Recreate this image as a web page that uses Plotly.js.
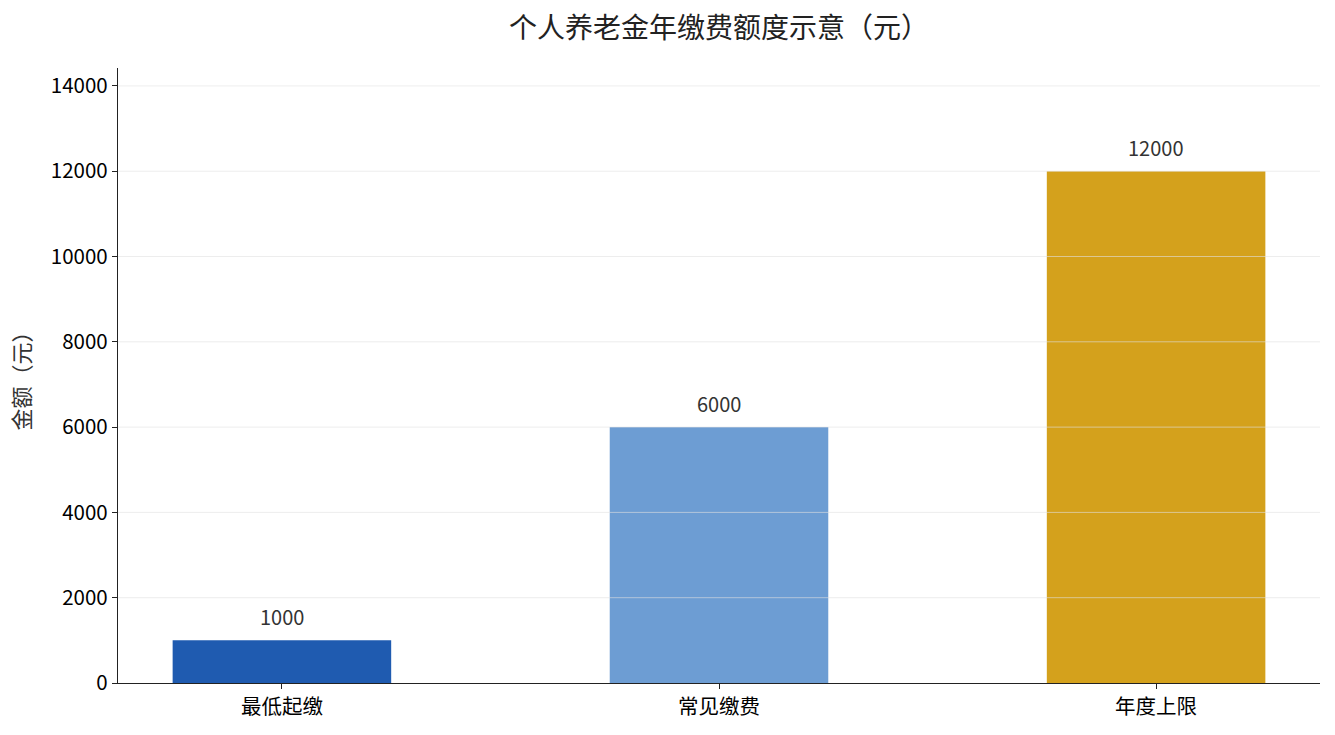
<!DOCTYPE html>
<html>
<head>
<meta charset="utf-8">
<script src="https://cdn.plot.ly/plotly-3.0.1.min.js"></script>
<style>
  html, body { margin: 0; padding: 0; background: #fff; }
  #chart { width: 1335px; height: 735px; }
</style>
</head>
<body>
<div id="chart"></div>
<script>
const categories = ["最低起缴", "常见缴费", "年度上限"];
const amounts = [1000, 6000, 12000];
const barColors = ["#1f5bb0", "#6d9dd3", "#d4a11c"];
const yTicks = [0, 2000, 4000, 6000, 8000, 10000, 12000, 14000];

const font = "'Noto Sans CJK SC', 'Noto Sans', sans-serif";

let data = [
  {
    x: categories,
    y: amounts,
    type: "bar",
    width: 0.5,
    marker: { color: barColors },
    hoverinfo: "x+y"
  }
];

// value labels above each bar
let annotations = categories.map(function (c, i) {
  return {
    x: c,
    y: amounts[i],
    text: String(amounts[i]),
    showarrow: false,
    yanchor: "bottom",
    yshift: 7,
    font: { family: font, size: 20, color: "#333" }
  };
});

// matplotlib draws the grid over the bars, plotly draws it under, so redo it as shapes
let gridShapes = yTicks.slice(1).map(function (t) {
  return {
    type: "line",
    xref: "paper",
    x0: 0,
    x1: 1,
    yref: "y",
    y0: t,
    y1: t,
    layer: "above",
    line: { color: "rgba(225,225,225,0.6)", width: 1 }
  };
});

let layout = {
  width: 1335,
  height: 735,
  margin: { l: 118, r: 15, t: 68, b: 52 },
  paper_bgcolor: "#fff",
  plot_bgcolor: "#fff",
  font: { family: font, color: "#000" },
  title: {
    text: "个人养老金年缴费额度示意（元）",
    xref: "paper",
    x: 0.5,
    xanchor: "center",
    y: 0.961,
    yanchor: "middle",
    font: { family: font, size: 28, color: "#222" }
  },
  xaxis: {
    range: [-0.375, 2.375],
    showline: true,
    linecolor: "#222",
    linewidth: 1.3,
    ticks: "outside",
    ticklen: 5,
    tickcolor: "#222",
    showgrid: false,
    zeroline: false,
    tickfont: { family: font, size: 20.5, color: "#000" }
  },
  yaxis: {
    range: [0, 14420],
    tickvals: yTicks,
    tickformat: "d",
    showline: true,
    linecolor: "#222",
    linewidth: 1.3,
    ticks: "outside",
    ticklen: 5,
    tickcolor: "#222",
    showgrid: false,
    zeroline: false,
    tickfont: { family: font, size: 20.5, color: "#000" },
    title: {
      text: "金额（元）",
      standoff: 14,
      font: { family: font, size: 22, color: "#333" }
    }
  },
  annotations: annotations,
  shapes: gridShapes,
  showlegend: false,
  bargap: 0.5
};

Plotly.newPlot("chart", data, layout, { displayModeBar: false });
</script>
</body>
</html>
